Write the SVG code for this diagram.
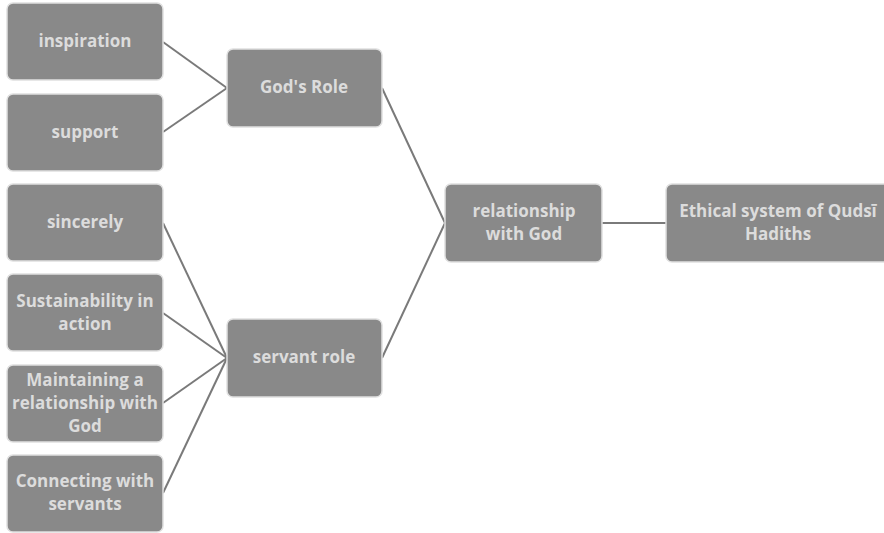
<svg xmlns="http://www.w3.org/2000/svg" width="884" height="533" viewBox="0 0 884 533">
<style>
.box{fill:#898989;stroke:#e0e0e0;stroke-width:1.5}
.t{font-family:"Open Sans","Liberation Sans",sans-serif;font-weight:bold;font-size:17px;fill:#dcdcdc;text-anchor:middle}
.c{stroke:#7a7a7a;stroke-width:2;fill:none}
</style>
<rect width="884" height="533" fill="#ffffff"/>
<g id="connectors">
<line class="c" x1="163" y1="42" x2="227" y2="88"/>
<line class="c" x1="163" y1="132" x2="227" y2="88"/>
<line class="c" x1="382" y1="88" x2="445" y2="223"/>
<line class="c" x1="382" y1="358" x2="445" y2="223"/>
<line class="c" x1="163" y1="223" x2="227" y2="358"/>
<line class="c" x1="163" y1="313" x2="227" y2="358"/>
<line class="c" x1="163" y1="403" x2="227" y2="358"/>
<line class="c" x1="163" y1="493" x2="227" y2="358"/>
<line class="c" x1="602" y1="223" x2="666" y2="223"/>
</g>
<g id="inspiration"><rect class="box" x="7" y="3" width="156" height="77" rx="6"/><text class="t" x="85" y="47">inspiration</text></g>
<g id="support"><rect class="box" x="7" y="94" width="156" height="77" rx="6"/><text class="t" x="85" y="138">support</text></g>
<g id="sincerely"><rect class="box" x="7" y="184" width="156" height="77" rx="6"/><text class="t" x="85" y="228">sincerely</text></g>
<g id="sustainability"><rect class="box" x="7" y="274" width="156" height="77" rx="6"/><text class="t" x="85" y="307">Sustainability in</text><text class="t" x="85" y="330">action</text></g>
<g id="maintaining"><rect class="box" x="7" y="365" width="156" height="77" rx="6"/><text class="t" x="85" y="386">Maintaining a</text><text class="t" x="85" y="409">relationship with</text><text class="t" x="85" y="432">God</text></g>
<g id="connecting"><rect class="box" x="7" y="455" width="156" height="77" rx="6"/><text class="t" x="85" y="487">Connecting with</text><text class="t" x="85" y="510">servants</text></g>
<g id="gods-role"><rect class="box" x="227" y="49" width="155" height="78" rx="6"/><text class="t" x="304" y="93">God's Role</text></g>
<g id="servant-role"><rect class="box" x="227" y="319" width="155" height="78" rx="6"/><text class="t" x="304" y="363">servant role</text></g>
<g id="relationship"><rect class="box" x="445" y="184" width="157" height="78" rx="6"/><text class="t" x="524" y="217">relationship</text><text class="t" x="524" y="240">with God</text></g>
<g id="ethical"><rect class="box" x="666" y="184" width="224" height="78" rx="6"/><text class="t" x="778" y="217">Ethical system of Qudsī</text><text class="t" x="778" y="240">Hadiths</text></g>
</svg>
